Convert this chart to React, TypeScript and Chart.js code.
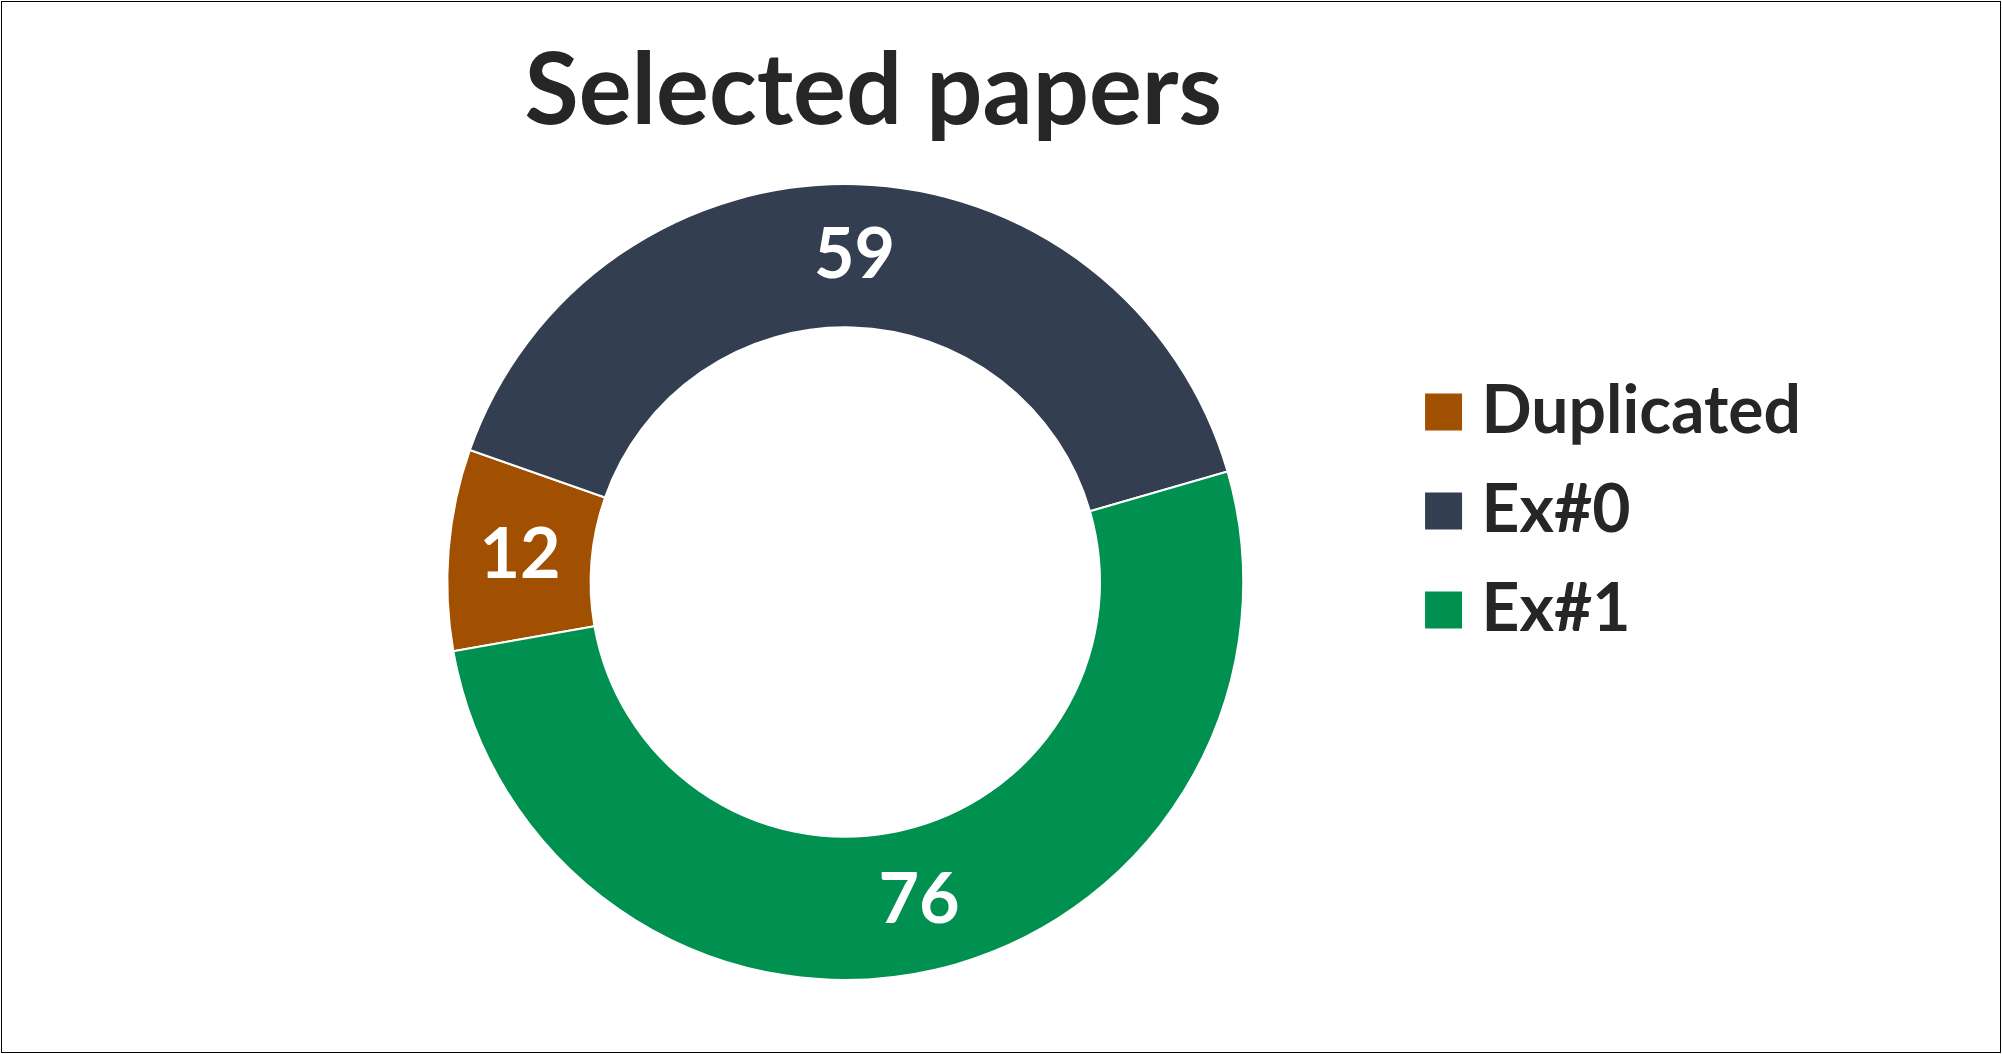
import React, { useEffect, useRef } from 'react';
import { Chart, registerables } from 'chart.js';

Chart.register(...registerables);

// ---- data ----
const categories: string[] = ['Duplicated', 'Ex#0', 'Ex#1'];
const values: number[] = [12, 59, 76];
const sliceColors: string[] = ['#A05000', '#333F50', '#00904F'];
const chartTitle = 'Selected papers';

const FONT = 'Lato, "Open Sans", "DejaVu Sans", sans-serif';
const TEXT_COLOR = '#262626';

const valueLabels = {
  id: 'valueLabels',
  afterDatasetsDraw(chart: any) {
    const { ctx } = chart;
    const meta = chart.getDatasetMeta(0);
    const ds = chart.data.datasets[0];
    ctx.save();
    ctx.fillStyle = '#FFFFFF';
    ctx.font = `bold 70px ${FONT}`;
    ctx.textAlign = 'center';
    ctx.textBaseline = 'middle';
    meta.data.forEach((arc: any, i: number) => {
      const p = arc.tooltipPosition(false);
      ctx.fillText(String(ds.data[i]), p.x, p.y);
    });
    ctx.restore();
  },
};

const titleShift = {
  id: 'titleShift',
  afterLayout(chart: any) {
    const t = chart.titleBlock;
    if (t) {
      t.left += 28;
      t.right += 28;
    }
  },
};

export default function App() {
  const canvasRef = useRef<HTMLCanvasElement | null>(null);

  useEffect(() => {
    const canvas = canvasRef.current;
    if (!canvas) return;
    const baseGen = (Chart as any).overrides.doughnut.plugins.legend.labels.generateLabels;
    const chart = new Chart(canvas, {
      type: 'doughnut',
      data: {
        labels: categories,
        datasets: [
          {
            data: values,
            backgroundColor: sliceColors,
            borderColor: '#FFFFFF',
            borderWidth: 2,
            hoverOffset: 0,
          },
        ],
      },
      options: {
        responsive: false,
        animation: false,
        devicePixelRatio: 1,
        rotation: 260,
        cutout: '64%',
        layout: { padding: { top: 41, bottom: 73, left: 285, right: 191 } },
        plugins: {
          tooltip: { enabled: false },
          title: {
            display: true,
            text: chartTitle,
            color: TEXT_COLOR,
            fullSize: false,
            font: { family: FONT, size: 99, weight: 'bold', lineHeight: 0.91 },
            padding: { top: 6, bottom: 46 },
          },
          legend: {
            display: true,
            position: 'right',
            align: 'center',
            labels: {
              color: TEXT_COLOR,
              font: { family: FONT, size: 66, weight: 'bold' },
              boxWidth: 10,
              boxHeight: 10,
              padding: 33,
              generateLabels: (c: any) =>
                baseGen(c).map((item: any) => ({
                  ...item,
                  strokeStyle: item.fillStyle,
                  lineWidth: 27,
                  lineJoin: 'miter',
                })),
            },
          },
        },
      } as any,
      plugins: [valueLabels, titleShift],
    });
    return () => chart.destroy();
  }, []);

  return (
    <div
      style={{
        position: 'absolute',
        left: 0,
        top: 0,
        width: 2002,
        height: 1054,
        background: '#FFFFFF',
        overflow: 'hidden',
      }}
    >
      <canvas
        ref={canvasRef}
        width={2002}
        height={1054}
        style={{ position: 'absolute', left: 0, top: 0, display: 'block' }}
      />
      <div
        style={{
          position: 'absolute',
          left: 1,
          top: 1,
          width: 2000,
          height: 1052,
          border: '1px solid #000000',
          boxSizing: 'border-box',
          pointerEvents: 'none',
        }}
      />
    </div>
  );
}
